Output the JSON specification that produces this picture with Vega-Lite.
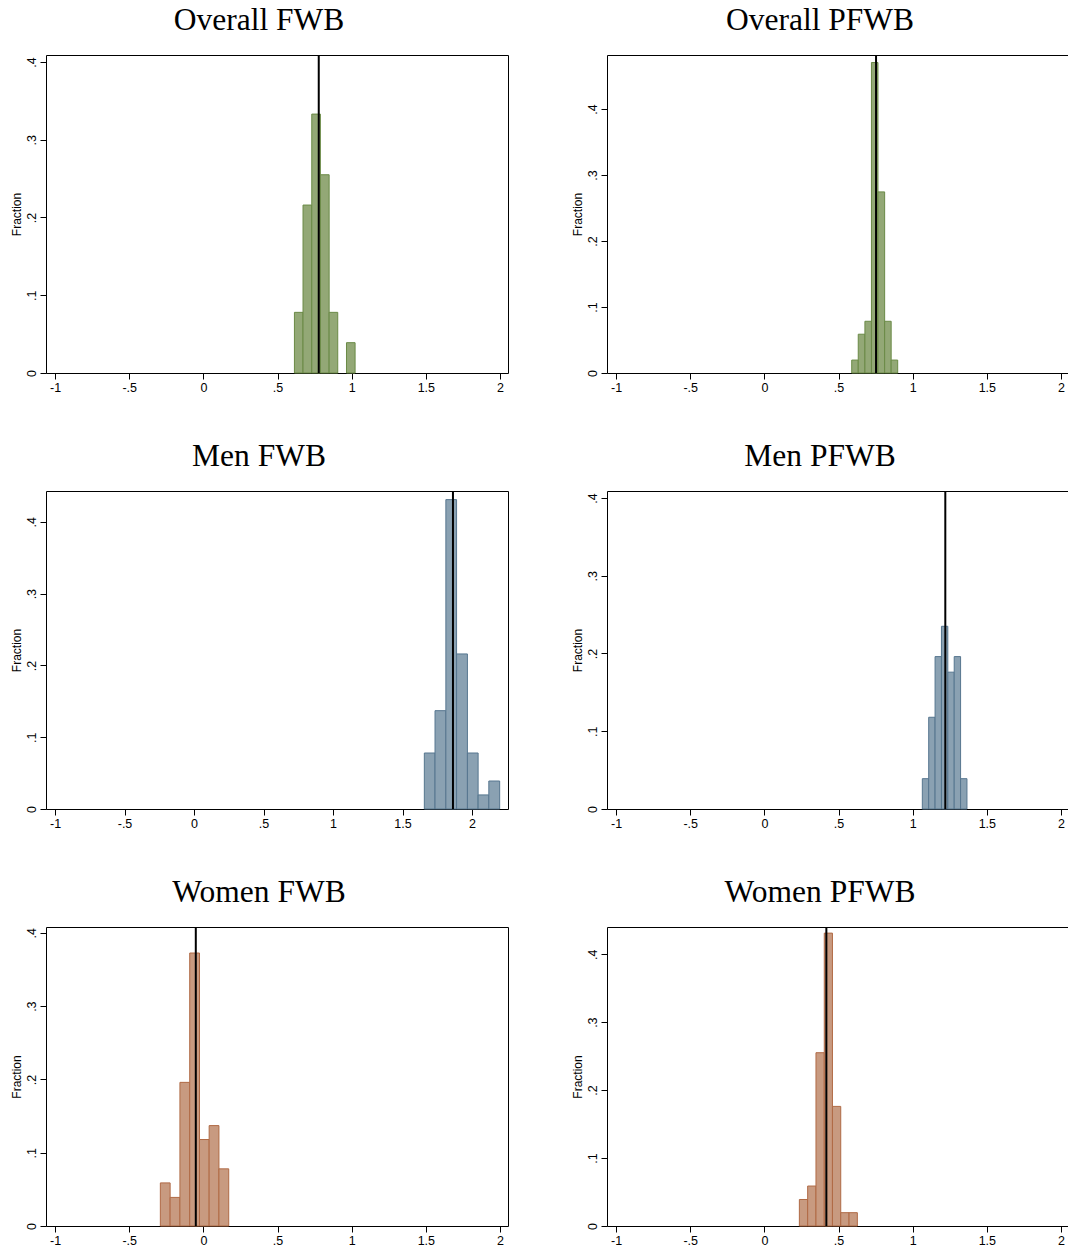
{
  "$schema": "https://vega.github.io/schema/vega-lite/v6.json",
  "padding": {"left": 9, "top": 4, "right": 0, "bottom": 0},
  "background": "white",
  "datasets": {
    "bars": [
      {"panel": "Overall FWB", "x0": 0.614, "x1": 0.672, "fraction": 0.078},
      {"panel": "Overall FWB", "x0": 0.672, "x1": 0.731, "fraction": 0.216},
      {"panel": "Overall FWB", "x0": 0.731, "x1": 0.789, "fraction": 0.333},
      {"panel": "Overall FWB", "x0": 0.789, "x1": 0.848, "fraction": 0.255},
      {"panel": "Overall FWB", "x0": 0.848, "x1": 0.906, "fraction": 0.078},
      {"panel": "Overall FWB", "x0": 0.965, "x1": 1.023, "fraction": 0.039},
      {"panel": "Overall PFWB", "x0": 0.589, "x1": 0.633, "fraction": 0.0196},
      {"panel": "Overall PFWB", "x0": 0.633, "x1": 0.678, "fraction": 0.0588},
      {"panel": "Overall PFWB", "x0": 0.678, "x1": 0.722, "fraction": 0.0784},
      {"panel": "Overall PFWB", "x0": 0.722, "x1": 0.766, "fraction": 0.4706},
      {"panel": "Overall PFWB", "x0": 0.766, "x1": 0.811, "fraction": 0.2745},
      {"panel": "Overall PFWB", "x0": 0.811, "x1": 0.855, "fraction": 0.0784},
      {"panel": "Overall PFWB", "x0": 0.855, "x1": 0.899, "fraction": 0.0196},
      {"panel": "Men FWB", "x0": 1.657, "x1": 1.734, "fraction": 0.078},
      {"panel": "Men FWB", "x0": 1.734, "x1": 1.812, "fraction": 0.137},
      {"panel": "Men FWB", "x0": 1.812, "x1": 1.889, "fraction": 0.431},
      {"panel": "Men FWB", "x0": 1.889, "x1": 1.967, "fraction": 0.216},
      {"panel": "Men FWB", "x0": 1.967, "x1": 2.044, "fraction": 0.078},
      {"panel": "Men FWB", "x0": 2.044, "x1": 2.121, "fraction": 0.0196},
      {"panel": "Men FWB", "x0": 2.121, "x1": 2.199, "fraction": 0.039},
      {"panel": "Men PFWB", "x0": 1.065, "x1": 1.108, "fraction": 0.039},
      {"panel": "Men PFWB", "x0": 1.108, "x1": 1.151, "fraction": 0.118},
      {"panel": "Men PFWB", "x0": 1.151, "x1": 1.194, "fraction": 0.196},
      {"panel": "Men PFWB", "x0": 1.194, "x1": 1.237, "fraction": 0.235},
      {"panel": "Men PFWB", "x0": 1.237, "x1": 1.280, "fraction": 0.176},
      {"panel": "Men PFWB", "x0": 1.280, "x1": 1.323, "fraction": 0.196},
      {"panel": "Men PFWB", "x0": 1.323, "x1": 1.366, "fraction": 0.039},
      {"panel": "Women FWB", "x0": -0.290, "x1": -0.224, "fraction": 0.0588},
      {"panel": "Women FWB", "x0": -0.224, "x1": -0.158, "fraction": 0.039},
      {"panel": "Women FWB", "x0": -0.158, "x1": -0.092, "fraction": 0.196},
      {"panel": "Women FWB", "x0": -0.092, "x1": -0.026, "fraction": 0.3725},
      {"panel": "Women FWB", "x0": -0.026, "x1": 0.039, "fraction": 0.118},
      {"panel": "Women FWB", "x0": 0.039, "x1": 0.105, "fraction": 0.137},
      {"panel": "Women FWB", "x0": 0.105, "x1": 0.171, "fraction": 0.078},
      {"panel": "Women PFWB", "x0": 0.236, "x1": 0.292, "fraction": 0.039},
      {"panel": "Women PFWB", "x0": 0.292, "x1": 0.348, "fraction": 0.0588},
      {"panel": "Women PFWB", "x0": 0.348, "x1": 0.404, "fraction": 0.255},
      {"panel": "Women PFWB", "x0": 0.404, "x1": 0.459, "fraction": 0.431},
      {"panel": "Women PFWB", "x0": 0.459, "x1": 0.515, "fraction": 0.176},
      {"panel": "Women PFWB", "x0": 0.515, "x1": 0.571, "fraction": 0.0196},
      {"panel": "Women PFWB", "x0": 0.571, "x1": 0.627, "fraction": 0.0196}
    ],
    "lines": [
      {"panel": "Overall FWB", "mean": 0.778},
      {"panel": "Overall PFWB", "mean": 0.753},
      {"panel": "Men FWB", "mean": 1.863},
      {"panel": "Men PFWB", "mean": 1.220},
      {"panel": "Women FWB", "mean": -0.051},
      {"panel": "Women PFWB", "mean": 0.418}
    ]
  },
  "config": {
    "view": {"stroke": "black", "strokeWidth": 1},
    "title": {"font": "Liberation Serif", "fontSize": 31.5, "fontWeight": "normal", "color": "black", "baseline": "alphabetic", "offset": 18, "anchor": "middle", "frame": "bounds"},
    "axis": {"grid": false, "domain": false, "tickColor": "black", "tickSize": 6, "tickWidth": 1, "labelFont": "Liberation Sans", "labelFontSize": 12.5, "labelColor": "black", "labelPadding": 2, "labelOverlap": false, "labelFlush": false, "titleFont": "Liberation Sans", "titleFontSize": 12, "titleFontWeight": "normal", "titleColor": "black",
      "labelExpr": "(datum.value < 0 ? '-' : '') + replace(format(abs(datum.value), ''), '0.', '.')"},
    "axisX": {"labelPadding": 2},
    "axisY": {"labelAngle": -90, "titlePadding": 2}
  },
  "columns": 2,
  "spacing": {"row": 46, "column": 61},
  "concat": [
    {
      "width": 462, "height": 318, "title": "Overall FWB",
      "layer": [
        {"data": {"name": "bars"}, "transform": [{"filter": "datum.panel == 'Overall FWB'"}],
         "mark": {"type": "rect", "fill": "#93a876", "stroke": "#6a8a46", "strokeWidth": 1},
         "encoding": {
           "x": {"field": "x0", "type": "quantitative", "scale": {"domain": [-1.061, 2.054], "nice": false, "zero": false}, "axis": {"values": [-1, -0.5, 0, 0.5, 1, 1.5, 2], "title": null}},
           "x2": {"field": "x1"},
           "y": {"field": "fraction", "type": "quantitative", "scale": {"domain": [0, 0.409], "nice": false}, "axis": {"values": [0, 0.1, 0.2, 0.3, 0.4], "title": "Fraction"}},
           "y2": {"datum": 0}
         }},
        {"data": {"name": "lines"}, "transform": [{"filter": "datum.panel == 'Overall FWB'"}],
         "mark": {"type": "rule", "color": "black", "strokeWidth": 2},
         "encoding": {"x": {"field": "mean", "type": "quantitative"}}}
      ]
    },
    {
      "width": 462, "height": 318, "title": "Overall PFWB",
      "layer": [
        {"data": {"name": "bars"}, "transform": [{"filter": "datum.panel == 'Overall PFWB'"}],
         "mark": {"type": "rect", "fill": "#93a876", "stroke": "#6a8a46", "strokeWidth": 1},
         "encoding": {
           "x": {"field": "x0", "type": "quantitative", "scale": {"domain": [-1.061, 2.054], "nice": false, "zero": false}, "axis": {"values": [-1, -0.5, 0, 0.5, 1, 1.5, 2], "title": null}},
           "x2": {"field": "x1"},
           "y": {"field": "fraction", "type": "quantitative", "scale": {"domain": [0, 0.482], "nice": false}, "axis": {"values": [0, 0.1, 0.2, 0.3, 0.4], "title": "Fraction"}},
           "y2": {"datum": 0}
         }},
        {"data": {"name": "lines"}, "transform": [{"filter": "datum.panel == 'Overall PFWB'"}],
         "mark": {"type": "rule", "color": "black", "strokeWidth": 2},
         "encoding": {"x": {"field": "mean", "type": "quantitative"}}}
      ]
    },
    {
      "width": 462, "height": 318, "title": "Men FWB",
      "layer": [
        {"data": {"name": "bars"}, "transform": [{"filter": "datum.panel == 'Men FWB'"}],
         "mark": {"type": "rect", "fill": "#8aa1b2", "stroke": "#56768f", "strokeWidth": 1},
         "encoding": {
           "x": {"field": "x0", "type": "quantitative", "scale": {"domain": [-1.065, 2.259], "nice": false, "zero": false}, "axis": {"values": [-1, -0.5, 0, 0.5, 1, 1.5, 2], "title": null}},
           "x2": {"field": "x1"},
           "y": {"field": "fraction", "type": "quantitative", "scale": {"domain": [0, 0.443], "nice": false}, "axis": {"values": [0, 0.1, 0.2, 0.3, 0.4], "title": "Fraction"}},
           "y2": {"datum": 0}
         }},
        {"data": {"name": "lines"}, "transform": [{"filter": "datum.panel == 'Men FWB'"}],
         "mark": {"type": "rule", "color": "black", "strokeWidth": 2},
         "encoding": {"x": {"field": "mean", "type": "quantitative"}}}
      ]
    },
    {
      "width": 462, "height": 318, "title": "Men PFWB",
      "layer": [
        {"data": {"name": "bars"}, "transform": [{"filter": "datum.panel == 'Men PFWB'"}],
         "mark": {"type": "rect", "fill": "#8aa1b2", "stroke": "#56768f", "strokeWidth": 1},
         "encoding": {
           "x": {"field": "x0", "type": "quantitative", "scale": {"domain": [-1.061, 2.054], "nice": false, "zero": false}, "axis": {"values": [-1, -0.5, 0, 0.5, 1, 1.5, 2], "title": null}},
           "x2": {"field": "x1"},
           "y": {"field": "fraction", "type": "quantitative", "scale": {"domain": [0, 0.409], "nice": false}, "axis": {"values": [0, 0.1, 0.2, 0.3, 0.4], "title": "Fraction"}},
           "y2": {"datum": 0}
         }},
        {"data": {"name": "lines"}, "transform": [{"filter": "datum.panel == 'Men PFWB'"}],
         "mark": {"type": "rule", "color": "black", "strokeWidth": 2},
         "encoding": {"x": {"field": "mean", "type": "quantitative"}}}
      ]
    },
    {
      "width": 462, "height": 299, "title": "Women FWB",
      "layer": [
        {"data": {"name": "bars"}, "transform": [{"filter": "datum.panel == 'Women FWB'"}],
         "mark": {"type": "rect", "fill": "#c89a80", "stroke": "#b06a45", "strokeWidth": 1},
         "encoding": {
           "x": {"field": "x0", "type": "quantitative", "scale": {"domain": [-1.061, 2.054], "nice": false, "zero": false}, "axis": {"values": [-1, -0.5, 0, 0.5, 1, 1.5, 2], "title": null}},
           "x2": {"field": "x1"},
           "y": {"field": "fraction", "type": "quantitative", "scale": {"domain": [0, 0.408], "nice": false}, "axis": {"values": [0, 0.1, 0.2, 0.3, 0.4], "title": "Fraction"}},
           "y2": {"datum": 0}
         }},
        {"data": {"name": "lines"}, "transform": [{"filter": "datum.panel == 'Women FWB'"}],
         "mark": {"type": "rule", "color": "black", "strokeWidth": 2},
         "encoding": {"x": {"field": "mean", "type": "quantitative"}}}
      ]
    },
    {
      "width": 462, "height": 299, "title": "Women PFWB",
      "layer": [
        {"data": {"name": "bars"}, "transform": [{"filter": "datum.panel == 'Women PFWB'"}],
         "mark": {"type": "rect", "fill": "#c89a80", "stroke": "#b06a45", "strokeWidth": 1},
         "encoding": {
           "x": {"field": "x0", "type": "quantitative", "scale": {"domain": [-1.061, 2.054], "nice": false, "zero": false}, "axis": {"values": [-1, -0.5, 0, 0.5, 1, 1.5, 2], "title": null}},
           "x2": {"field": "x1"},
           "y": {"field": "fraction", "type": "quantitative", "scale": {"domain": [0, 0.440], "nice": false}, "axis": {"values": [0, 0.1, 0.2, 0.3, 0.4], "title": "Fraction"}},
           "y2": {"datum": 0}
         }},
        {"data": {"name": "lines"}, "transform": [{"filter": "datum.panel == 'Women PFWB'"}],
         "mark": {"type": "rule", "color": "black", "strokeWidth": 2},
         "encoding": {"x": {"field": "mean", "type": "quantitative"}}}
      ]
    }
  ]
}
